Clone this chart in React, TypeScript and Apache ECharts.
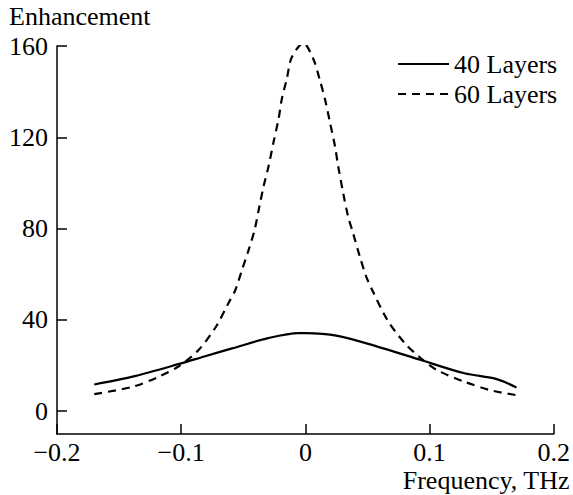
import React, { useEffect, useRef } from "react";
import * as echarts from "echarts";

const layers40: [number, number][] = [
  [-0.17, 11.7], [-0.14, 15.0], [-0.1016, 20.7], [-0.08, 24.2], [-0.059, 27.5], [-0.03, 32.0],
  [-0.0056, 34.2], [0.0, 34.2], [0.026, 33.0], [0.058, 28.3], [0.093, 22.4],
  [0.128, 16.6], [0.152, 14.4], [0.16, 12.9], [0.17, 10.4],
];

const layers60: [number, number][] = [
  [-0.17, 7.5], [-0.139, 10.7], [-0.118, 15.1], [-0.1016, 19.8], [-0.086, 26.8],
  [-0.072, 37.0], [-0.062, 47.3], [-0.0563, 53.2], [-0.051, 62.0], [-0.0456, 70.8],
  [-0.0408, 79.6], [-0.037, 89.8], [-0.0336, 98.6], [-0.0296, 107.4], [-0.0256, 118.0],
  [-0.0216, 128.0], [-0.019, 136.7], [-0.015, 145.5], [-0.011, 155.0], [-0.0016, 161.3],
  [0.0064, 154.3], [0.0118, 144.8], [0.0158, 136.7], [0.0198, 126.5], [0.0238, 116.2],
  [0.0264, 107.4], [0.0304, 95.7], [0.0344, 85.4], [0.0384, 78.0], [0.0438, 67.8],
  [0.049, 59.0], [0.0544, 52.4], [0.066, 40.0], [0.08, 29.8], [0.093, 23.2],
  [0.106, 18.0], [0.128, 12.9], [0.149, 9.2], [0.17, 7.0],
];

const yTicks = [0, 40, 80, 120, 160];
const seriesNames = ["40 Layers", "60 Layers"];
const yTitle = "Enhancement";
const xTitle = "Frequency, THz";

const FONT = "Liberation Serif";
const FS = 26;

export default function App() {
  const ref = useRef<HTMLDivElement>(null);
  useEffect(() => {
    document.body.style.margin = "0";
    const chart = echarts.init(ref.current!, null, { renderer: "svg" });
    const fmt = (v: number) => {
      if (Math.abs(v) < 1e-9) return "0";
      return (v < 0 ? "\u2212" : "") + Math.abs(v).toFixed(1);
    };
    chart.setOption({
      animation: false,
      textStyle: { fontFamily: FONT, color: "#000" },
      grid: { left: 57, right: 16, top: 46, bottom: 61, containLabel: false },
      legend: {
        left: 392,
        top: 46,
        orient: "vertical",
        itemWidth: 51,
        itemHeight: 14,
        itemGap: 4,
        itemStyle: { opacity: 0 },
        textStyle: { fontFamily: FONT, fontSize: FS, color: "#000" },
        data: seriesNames,
      },
      xAxis: {
        type: "value",
        min: -0.2,
        max: 0.2,
        interval: 0.1,
        splitLine: { show: false },
        axisLine: { show: true, onZero: false, lineStyle: { color: "#000", width: 1.5 } },
        axisTick: { show: true, inside: true, length: 10, lineStyle: { color: "#000", width: 1.5 } },
        axisLabel: { margin: 5, fontFamily: FONT, fontSize: FS, color: "#000", formatter: fmt },
      },
      yAxis: {
        type: "value",
        min: -10,
        max: 160,
        splitLine: { show: false },
        axisLine: { show: true, onZero: false, lineStyle: { color: "#000", width: 1.5 } },
        axisTick: { show: true, inside: true, length: 10, customValues: yTicks, lineStyle: { color: "#000", width: 1.5 } },
        axisLabel: { margin: 9, fontFamily: FONT, fontSize: FS, color: "#000", customValues: yTicks },
      },
      graphic: [
        { type: "text", left: 9, top: 3, style: { text: yTitle, fontFamily: FONT, fontSize: FS, fill: "#000" } },
        { type: "text", right: 3, top: 467, style: { text: xTitle, fontFamily: FONT, fontSize: FS, fill: "#000" } },
      ],
      series: [
        {
          name: seriesNames[0],
          type: "line",
          data: layers40,
          symbol: "none",
          smooth: 0.3,
          lineStyle: { color: "#000", width: 2.2, type: "solid" },
          itemStyle: { color: "#000" },
        },
        {
          name: seriesNames[1],
          type: "line",
          data: layers60,
          symbol: "none",
          smooth: 0.3,
          lineStyle: { color: "#000", width: 2.2, type: [8, 6] },
          itemStyle: { color: "#000" },
        },
      ],
    });
    return () => chart.dispose();
  }, []);
  return <div ref={ref} style={{ position: "absolute", left: 0, top: 0, width: 573, height: 495 }} />;
}
